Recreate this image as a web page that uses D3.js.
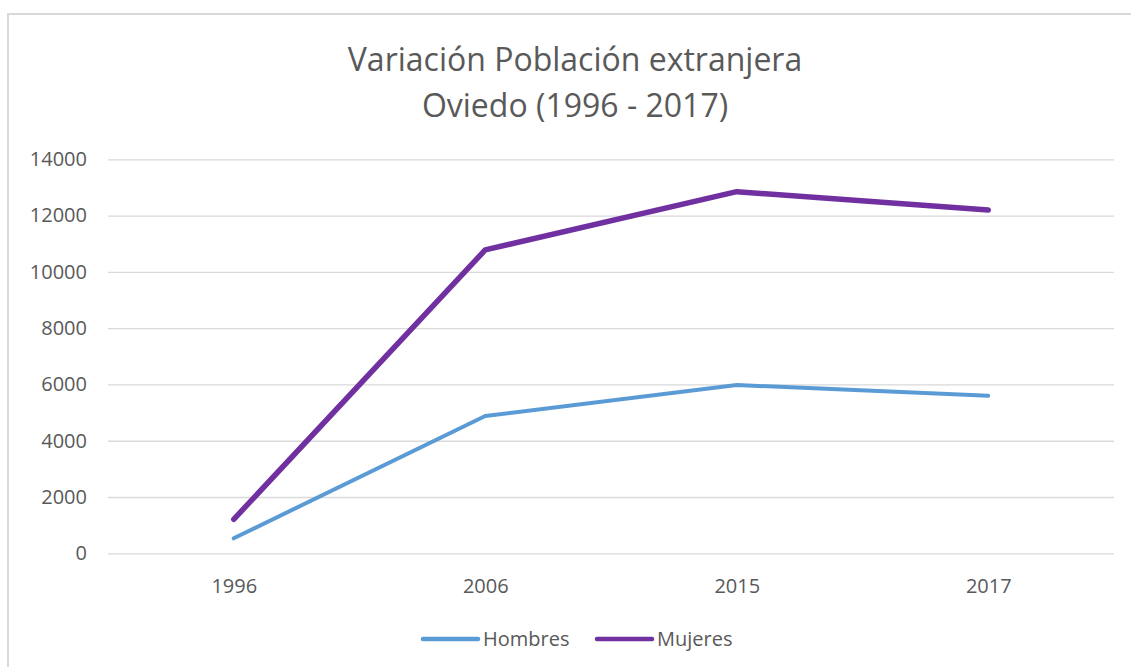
<!DOCTYPE html>
<html>
<head>
<meta charset="utf-8">
<script src="https://cdn.jsdelivr.net/npm/d3@7"></script>
<style>
  html, body { margin: 0; padding: 0; background: #fff; }
  svg { display: block; font-family: "Open Sans", "Noto Sans", sans-serif; }
</style>
</head>
<body>
<svg id="chart" width="1131" height="667"></svg>
<script>
// Foreign population in Oviedo by sex
const years = ["1996", "2006", "2015", "2017"];
const hombres = [533, 4880, 5980, 5600];
const mujeres = [1208, 10780, 12850, 12200];
const yTicks = [0, 2000, 4000, 6000, 8000, 10000, 12000, 14000];
const titleLines = ["Variación Población extranjera", "Oviedo (1996 - 2017)"];
const seriesNames = ["Hombres", "Mujeres"];

const textColor = "#595959";
const gridColor = "#d9d9d9";
const colors = { Hombres: "#5b9bd5", Mujeres: "#7030a0" };
const widths = { Hombres: 4, Mujeres: 5.5 };

const svg = d3.select("#chart");

// chart frame
svg.append("path")
  .attr("d", "M8,667 V14 H1131")
  .attr("fill", "none")
  .attr("stroke", gridColor)
  .attr("stroke-width", 2);

const plot = { left: 108, right: 1114, top: 159.3, bottom: 553.3 };

const x = d3.scalePoint().domain(years).range([plot.left, plot.right]).padding(0.5);
const y = d3.scaleLinear().domain([0, 14000]).range([plot.bottom, plot.top]);

// title
svg.append("g")
  .selectAll("text")
  .data(titleLines)
  .join("text")
  .attr("x", 575)
  .attr("y", (d, i) => 71 + i * 46)
  .attr("text-anchor", "middle")
  .attr("fill", textColor)
  .attr("font-size", 32)
  .text(d => d);

// y axis with gridlines
const yAxis = svg.append("g")
  .attr("transform", `translate(${plot.left},0)`)
  .call(d3.axisLeft(y).tickValues(yTicks).tickFormat(d3.format("d"))
    .tickSize(-(plot.right - plot.left)).tickPadding(21));
yAxis.select(".domain").remove();
yAxis.selectAll(".tick line").attr("stroke", gridColor).attr("stroke-width", 1.3);
yAxis.selectAll(".tick text")
  .attr("fill", textColor)
  .attr("font-size", 20)
  .attr("font-family", "\"Open Sans\", sans-serif");

// x axis labels
const xAxis = svg.append("g")
  .attr("transform", `translate(0,${plot.bottom})`)
  .call(d3.axisBottom(x).tickSize(0));
xAxis.select(".domain").remove();
xAxis.selectAll(".tick text")
  .attr("dy", null)
  .attr("y", 40)
  .attr("fill", textColor)
  .attr("font-size", 20)
  .attr("font-family", "\"Open Sans\", sans-serif");

// lines
const series = [
  { name: "Hombres", values: hombres },
  { name: "Mujeres", values: mujeres }
];
const line = d3.line()
  .x((d, i) => x(years[i]))
  .y(d => y(d));

svg.append("g")
  .selectAll("path")
  .data(series)
  .join("path")
  .attr("d", d => line(d.values))
  .attr("fill", "none")
  .attr("stroke", d => colors[d.name])
  .attr("stroke-width", d => widths[d.name])
  .attr("stroke-linecap", "round")
  .attr("stroke-linejoin", "round");

// legend
const legendItems = [
  { name: seriesNames[0], x0: 423 },
  { name: seriesNames[1], x0: 597 }
];
const legend = svg.append("g");
const li = legend.selectAll("g").data(legendItems).join("g")
  .attr("transform", d => `translate(${d.x0},639)`);
li.append("line")
  .attr("x1", 0).attr("x2", 55)
  .attr("stroke", d => colors[d.name])
  .attr("stroke-width", 4.5)
  .attr("stroke-linecap", "round");
li.append("text")
  .attr("x", 60)
  .attr("y", 7)
  .attr("fill", textColor)
  .attr("font-size", 20)
  .text(d => d.name);
</script>
</body>
</html>
